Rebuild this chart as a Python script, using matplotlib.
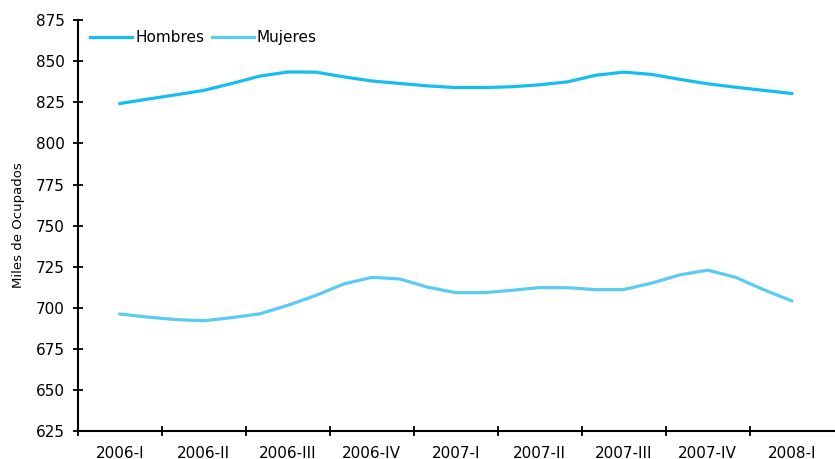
import numpy as np
from matplotlib import pyplot as plt

plt.rcParams['font.family'] = ['DejaVu Sans']

quarters = ["2006-I", "2006-II", "2006-III", "2006-IV", "2007-I",
            "2007-II", "2007-III", "2007-IV", "2008-I"]

# moving-quarter values (3 per quarter)
hombres = [824.3, 827.0, 829.6, 832.3, 836.5, 841.0, 843.5, 843.4, 840.5,
           838.0, 836.5, 835.0, 834.0, 834.0, 834.5, 835.7, 837.5, 841.5,
           843.4, 842.0, 839.0, 836.3, 834.2, 832.3, 830.4]
mujeres = [696.2, 694.3, 692.8, 692.1, 694.0, 696.3, 701.5, 707.5, 714.5,
           718.5, 717.5, 712.5, 709.2, 709.2, 710.6, 712.3, 712.2, 711.0,
           711.1, 715.0, 720.0, 722.9, 718.5, 711.0, 704.2]

x = np.arange(len(hombres)) / 3.0

fig = plt.figure(figsize=(8.35, 4.59), dpi=100)
ax = fig.add_axes([0.0934, 0.061, 0.905, 0.895])

ax.plot(x, hombres, color='#14BEF0', lw=2.3, label='Hombres')
ax.plot(x, mujeres, color='#5ACBF2', lw=2.3, label='Mujeres')

ax.set_xlim(-0.5, 8.5)
ax.set_ylim(625, 875)
ax.set_yticks(np.arange(625, 876, 25))
ax.set_xticks(np.arange(-0.5, 8, 1))
ax.set_xticklabels([])
ax.set_xticks(np.arange(0, 9), minor=True)
ax.set_xticklabels(quarters, minor=True)
ax.tick_params(axis='x', which='minor', length=0, pad=10.5, labelsize=11)
ax.tick_params(axis='x', which='major', direction='inout', length=7.2, width=1.3)
ax.tick_params(axis='y', direction='inout', length=7.2, width=1.3, labelsize=11, pad=6)

for s in ['top', 'right']:
    ax.spines[s].set_visible(False)
for s in ['left', 'bottom']:
    ax.spines[s].set_linewidth(1.5)

ax.set_ylabel('Miles de Ocupados', fontsize=9.5, labelpad=8)

ax.legend(loc='upper left', bbox_to_anchor=(0.0, 1.005), ncol=2, frameon=False,
          fontsize=11, handlelength=2.75, handletextpad=0.2, columnspacing=0.5,
          borderpad=0.3)

fig.savefig('out.png', dpi=100)
